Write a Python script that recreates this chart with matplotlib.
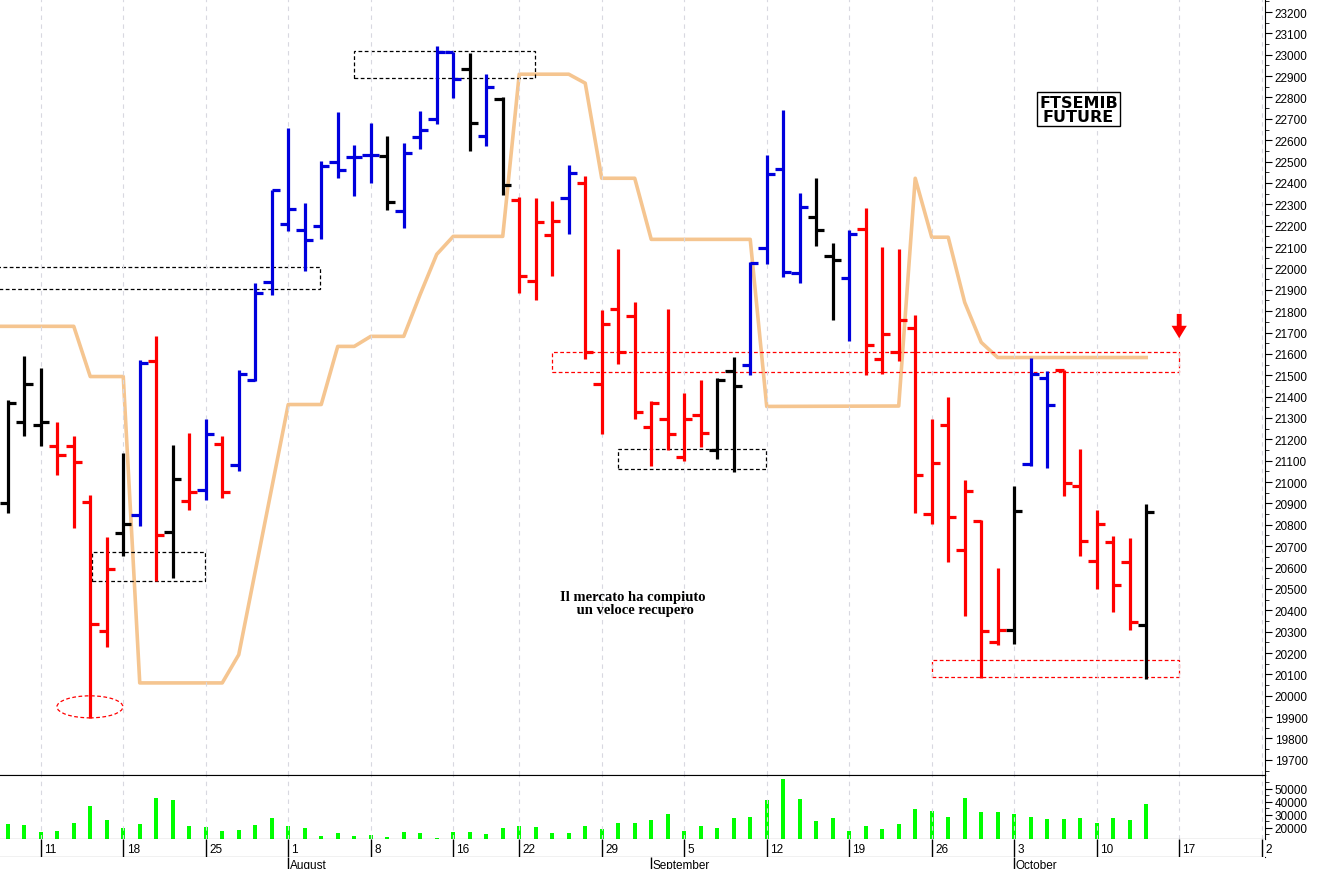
import numpy as np
import matplotlib
matplotlib.use("Agg")
import matplotlib.pyplot as plt
from matplotlib.patches import Rectangle, Ellipse

# ----- data (FTSE MIB future, daily bars, 7 Jul 2022 -> 13 Oct 2022) -----
opens = [20904, 21283, 21269, 21168, 21168, 20905, 20304, 20763, 20848, 21569,
         20765, 20913, 20961, 21176, 21082, 21480, 21935, 22207, 22178, 22199,
         22497, 22521, 22531, 22527, 22269, 22614, 22699, 23011, 22933, 22619,
         22792, 22319, 21939, 22155, 22328, 22399, 21461, 21808, 21777, 21260,
         21293, 21116, 21316, 21149, 21518, 21547, 22094, 22464, 21977, 22241,
         22058, 21954, 22183, 21574, 21607, 21719, 20852, 21269, 20684, 20820,
         20253, 20309, 21085, 21485, 21524, 20980, 20632, 20721, 20624, 20332]
highs = [21383, 21589, 21532, 21283, 21215, 20941, 20745, 21138, 21571, 21686,
         21173, 21232, 21297, 21218, 21524, 21930, 22367, 22656, 22305, 22502,
         22731, 22578, 22680, 22620, 22586, 22737, 23041, 23014, 23008, 22909,
         22802, 22335, 22328, 22316, 22484, 22433, 21805, 22089, 21842, 21379,
         21808, 21415, 21480, 21485, 21585, 22029, 22531, 22742, 22352, 22422,
         22118, 22180, 22282, 22100, 22089, 21782, 21297, 21396, 21008, 20824,
         20599, 20980, 21579, 21519, 21524, 21157, 20871, 20746, 20740, 20899]
lows = [20857, 21215, 21168, 21032, 20787, 19896, 20226, 20656, 20793, 20538,
        20552, 20871, 20915, 20927, 21050, 21472, 21875, 22175, 21988, 22136,
        22422, 22339, 22399, 22272, 22188, 22558, 22675, 22797, 22549, 22572,
        22342, 21883, 21852, 21964, 22160, 21574, 21223, 21551, 21293, 21073,
        21149, 21097, 21163, 21110, 21049, 21499, 22019, 21960, 21930, 22105,
        21758, 21660, 21500, 21504, 21565, 20857, 20806, 20627, 20374, 20084,
        20238, 20243, 21074, 21068, 20937, 20652, 20501, 20393, 20309, 20079]
closes = [21368, 21457, 21283, 21129, 21093, 20337, 20595, 20806, 21555, 20754,
          21016, 20955, 21223, 20952, 21508, 21883, 22366, 22277, 22132, 22480,
          22460, 22522, 22531, 22310, 22538, 22648, 23011, 22886, 22680, 22847,
          22389, 21963, 22216, 22221, 22446, 21611, 21738, 21611, 21326, 21372,
          21223, 21293, 21232, 21480, 21449, 22024, 22444, 21983, 22288, 22178,
          22038, 22160, 21640, 21691, 21757, 21035, 21087, 20838, 20960, 20301,
          20309, 20863, 21508, 21363, 20998, 20726, 20805, 20520, 20346, 20862]
# bar colour code: b = blue, k = black, r = red
bar_codes = "kkkrrrrkbrkrbrbbbbbbbbbkbbbbkbkrrrbrrrrrrrrkkbbbbkkbrrrrrrrrrkbbrrrrrk"
volumes = [23100, 22300, 17200, 17900, 23800, 36700, 26200, 20300, 23100, 43100,
           41800, 21300, 21000, 17400, 18700, 22300, 27400, 21500, 19700, 13600,
           15900, 13600, 14400, 13100, 16900, 15900, 12300, 16700, 16700, 15400,
           19700, 21300, 20500, 16200, 16200, 21300, 19000, 23800, 23800, 26200,
           30800, 17400, 21800, 19700, 27700, 28500, 41800, 57700, 42300, 25600,
           27700, 17400, 21800, 19200, 23100, 34600, 33100, 28700, 43100, 32100,
           32100, 30500, 28700, 26900, 26900, 27700, 23800, 27700, 26200, 38500]

# orange indicator line (bar index, price)
band_idx = [-1, 4, 5, 7, 8, 13, 14, 17, 19, 20, 21, 22, 24, 25, 26, 27, 30, 31,
            34, 35, 36, 38, 39, 45, 46, 54, 55, 56, 57, 58, 59, 60, 69]
band_val = [21729, 21729, 21494, 21494, 20060, 20060, 20192, 21363, 21363, 21635,
            21635, 21682, 21682, 21879, 22066, 22150, 22150, 22909, 22909, 22867,
            22422, 22422, 22136, 22136, 21354, 21356, 22422, 22146, 22146, 21841,
            21654, 21583, 21583]

# date axis
tick_idx = [2, 7, 12, 17, 22, 27, 31, 36, 41, 46, 51, 56, 61, 66, 71, 76]
tick_lbl = ["11", "18", "25", "1", "8", "16", "22", "29", "5", "12", "19", "26",
            "3", "10", "17", "2"]
month_idx = [17, 39, 61]
month_lbl = ["August", "September", "October"]

# dashed zones (x0, x1, p_low, p_high, colour)
zones = [(-1, 18.9, 21902, 22005, "black"),
         (5.1, 11.95, 20538, 20674, "black"),
         (21.0, 31.95, 22891, 23017, "black"),
         (37.0, 45.95, 21059, 21157, "black"),
         (33.0, 71.0, 21513, 21611, "red"),
         (56.0, 71.0, 20089, 20168, "red")]

colmap = {"b": "#0000dd", "k": "black", "r": "#ff0000"}
W, H = 1319, 870
XL = (-0.47, 76.2)
RX = 1265 / W

fig = plt.figure(figsize=(W / 100, H / 100), dpi=100)
ax = fig.add_axes([0, 94 / H, RX, 776 / H])
axv = fig.add_axes([0, 30 / H, RX, 64 / H])
axd = fig.add_axes([0, 12 / H, RX, 18 / H])
axm = fig.add_axes([0, 0, RX, 12 / H])

# ----- price panel -----
x = np.arange(len(opens))
cols = [colmap[c] for c in bar_codes]
lw = 2.3
ax.vlines(x, lows, highs, colors=cols, lw=lw)
ax.hlines(opens, x - 0.5, x, colors=cols, lw=lw)
ax.hlines(closes, x, x + 0.5, colors=cols, lw=lw)
ax.plot(band_idx, band_val, color="#f5c590", lw=2.6, zorder=1)

for x0, x1, lo, hi, c in zones:
    ax.add_patch(Rectangle((x0, lo), x1 - x0, hi - lo, fill=False, ec=c,
                           ls=(0, (3, 2)), lw=0.9))
ax.add_patch(Ellipse((4.98, 19948), 4.0, 103, fill=False, ec="red",
                     ls=(0, (3, 2)), lw=0.9))
ax.annotate("", xy=(71, 21660), xytext=(71, 21800),
            arrowprops=dict(arrowstyle="simple,head_width=1.1,head_length=0.9,tail_width=0.35",
                            color="red", lw=0))

ax.text(64.9, 22745, "FTSEMIB\nFUTURE", ha="center", va="center",
        fontsize=11.5, fontweight="bold", linespacing=0.95,
        bbox=dict(boxstyle="square,pad=0.15", fc="white", ec="black", lw=1))
ax.text(37.9, 20435, "Il mercato ha compiuto\n un veloce recupero", ha="center",
        va="center", fontsize=10.5, fontweight="bold", family="Liberation Serif",
        linespacing=1.0)

ax.set_xlim(*XL)
ax.set_ylim(19629, 23261)
ax.set_yticks(range(19700, 23201, 100))
ax.set_yticks(range(19650, 23251, 100), minor=True)
ax.yaxis.tick_right()
ax.tick_params(axis="y", which="major", length=5, labelsize=8.5, pad=2)
ax.tick_params(axis="y", which="minor", length=3)
ax.set_xticks(tick_idx)
ax.tick_params(axis="x", length=0, labelbottom=False)
ax.grid(axis="x", color="#d8d8e0", ls=(0, (4, 4)), lw=0.8)
for s in ["top", "left"]:
    ax.spines[s].set_visible(False)

# ----- volume panel -----
axv.bar(x, volumes, width=0.22, color="#00ff00", bottom=0)
axv.set_xlim(*XL)
axv.set_ylim(11538, 60769)
axv.set_yticks([20000, 30000, 40000, 50000])
axv.set_yticks([15000, 25000, 35000, 45000, 55000], minor=True)
axv.yaxis.tick_right()
axv.tick_params(axis="y", which="major", length=5, labelsize=8.5, pad=2)
axv.tick_params(axis="y", which="minor", length=3)
axv.set_xticks(tick_idx)
axv.tick_params(axis="x", length=0, labelbottom=False)
axv.grid(axis="x", color="#d8d8e0", ls=(0, (4, 4)), lw=0.8)
axv.spines["left"].set_visible(False)

# ----- date rows -----
for a in (axd, axm):
    a.set_xlim(*XL)
    a.set_ylim(0, 1)
    a.set_xticks([])
    a.set_yticks([])
    for s in ["top", "left", "right"]:
        a.spines[s].set_visible(False)
axm.spines["bottom"].set_visible(False)
axd.vlines(tick_idx, 0, 1, color="black", lw=1)
for i, t in zip(tick_idx, tick_lbl):
    axd.text(i + 0.2, 0.45, t, ha="left", va="center", fontsize=8.5,
             family="Liberation Sans", clip_on=False)
axm.vlines(month_idx, 0, 1, color="black", lw=1)
for i, t in zip(month_idx, month_lbl):
    axm.text(i + 0.1, 0.3, t, ha="left", va="center", fontsize=8.5,
             family="Liberation Sans")

for a in (ax, axv):
    for lab in a.get_yticklabels():
        lab.set_family("Liberation Sans")

fig.savefig("out.png", dpi=100)
